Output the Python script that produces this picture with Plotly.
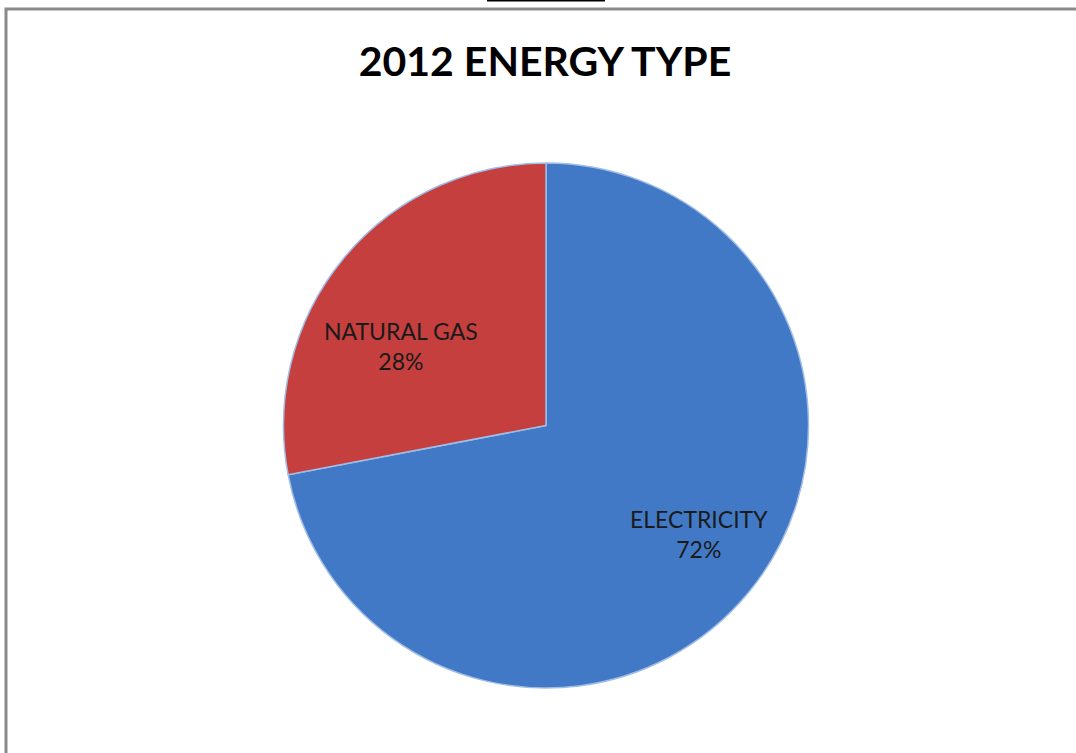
import plotly.graph_objects as go

labels = ["ELECTRICITY", "NATURAL GAS"]
values = [72, 28]
colors = ["#4179c6", "#c43f3e"]
title_text = "2012 ENERGY TYPE"

W, H = 1076, 753
cx, cy, r = 546, 425.5, 262.5

# label anchor positions (pixels) for each slice label
label_pos = [(699, 534), (401, 346)]

total = sum(values)

fig = go.Figure(go.Pie(
    labels=labels,
    values=values,
    sort=False,
    direction="clockwise",
    rotation=0,
    marker=dict(colors=colors, line=dict(color="#9fbde6", width=1.5)),
    textinfo="none",
    hoverinfo="label+percent",
    showlegend=False,
    domain=dict(x=[(cx - r) / W, (cx + r) / W], y=[(H - cy - r) / H, (H - cy + r) / H]),
))

annotations = []
for lab, val, (px, py) in zip(labels, values, label_pos):
    annotations.append(dict(
        text=f"{lab}<br>{round(100 * val / total)}%",
        x=px / W, y=1 - py / H, xref="paper", yref="paper",
        xanchor="center", yanchor="middle", showarrow=False,
        font=dict(family="Lato", size=23, color="#1a1a1a"),
    ))

fig.update_layout(
    width=W, height=H,
    margin=dict(l=0, r=0, t=0, b=0),
    paper_bgcolor="white",
    plot_bgcolor="white",
    title=dict(text="<b>" + title_text + "</b>", x=545 / W, xanchor="center",
               y=1 - 62 / H, yanchor="middle",
               font=dict(family="Lato", size=41, color="#000000")),
    annotations=annotations,
    shapes=[
        dict(type="rect", xref="paper", yref="paper",
             x0=6 / W, x1=1.02, y0=-0.02, y1=1 - 9 / H,
             line=dict(color="#8a8a8a", width=3)),
        dict(type="line", xref="paper", yref="paper",
             x0=487 / W, x1=605 / W, y0=1 - 0.5 / H, y1=1 - 0.5 / H,
             line=dict(color="#000000", width=2)),
    ],
)

fig.write_html("out.html")
